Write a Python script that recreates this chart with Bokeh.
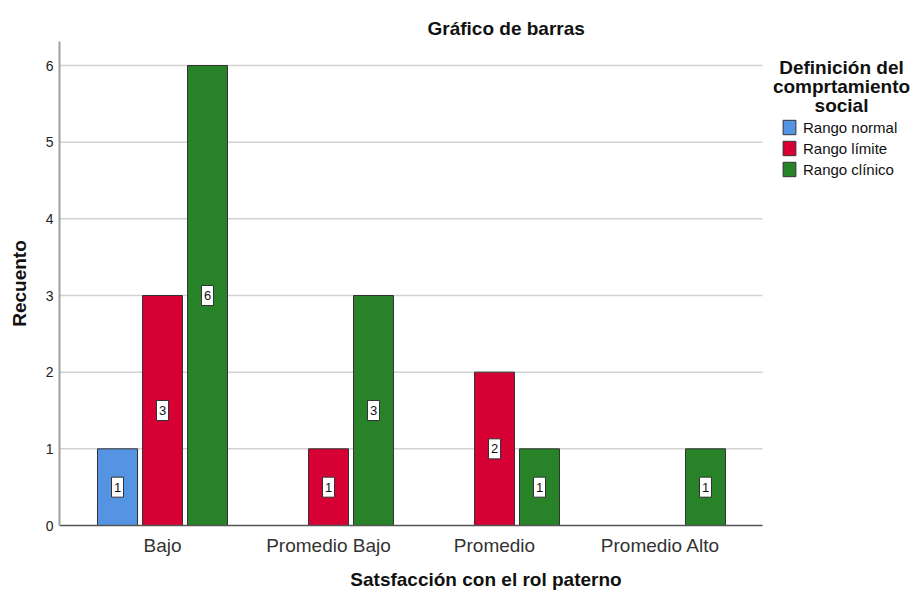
from bokeh.plotting import figure
from bokeh.models import (Range1d, FixedTicker, Legend, LegendItem, Label, Title,
                          ColumnDataSource)
from bokeh.embed import file_html
from bokeh.resources import INLINE
from bokeh.core.properties import value

# ---------------- data ----------------
categories = ["Bajo", "Promedio Bajo", "Promedio", "Promedio Alto"]
series = ["Rango normal", "Rango límite", "Rango clínico"]
rango_normal = [1, 0, 0, 0]
rango_limite = [3, 1, 2, 0]
rango_clinico = [6, 3, 1, 1]
y_ticks = [0, 1, 2, 3, 4, 5, 6]
legend_title_lines = ["Definición del", "comprtamiento", "social"]

counts = [rango_normal, rango_limite, rango_clinico]
colors = ["#5494e3", "#d60034", "#288228"]

FONT = "Liberation Sans"

# ---------------- geometry (pixels -> data) ----------------
PX_PER_X = 166.0          # pixels per category
PX_PER_Y = 460.0 / 6.0    # pixels per count
FRAME_L, FRAME_R, FRAME_T, FRAME_B = 59, 912, 41, 525
X0 = -103.0 / PX_PER_X                    # left edge of frame
X1 = X0 + (FRAME_R - FRAME_L) / PX_PER_X  # right edge of frame (incl. legend area)
XV = X0 + (762 - FRAME_L) / PX_PER_X      # visible end of grid / x axis
Y0 = 0.0
Y1 = (FRAME_B - FRAME_T) / PX_PER_Y


def px_to_x(px):
    return X0 + (px - FRAME_L) / PX_PER_X


def px_to_y(py):
    return (FRAME_B - py) / PX_PER_Y


p = figure(width=912, height=592, output_backend="svg", toolbar_location=None,
           x_range=Range1d(X0, X1), y_range=Range1d(Y0, Y1),
           min_border_left=FRAME_L, min_border_right=0, min_border_top=FRAME_T,
           min_border_bottom=592 - FRAME_B)
p.outline_line_color = None
p.background_fill_color = "white"
p.border_fill_color = "white"

title = Title(text="Gráfico de barras", align="left", offset=368,
              text_font=FONT, text_font_size="19px", text_font_style="bold",
              text_color="#111111", standoff=6)
p.add_layout(title, "above")

# horizontal grid lines (only over the bar area)
grid_y = [t for t in y_ticks if t > 0]
p.segment(x0=[X0] * len(grid_y), x1=[XV] * len(grid_y), y0=grid_y, y1=grid_y,
          line_color="#d2d2d2", line_width=1.5)

bar_w = 40.0 / PX_PER_X
slot = 45.0 / PX_PER_X
renderers = []
for k, (name, vals, col) in enumerate(zip(series, counts, colors)):
    xs = [i + (k - 1) * slot for i, v in enumerate(vals) if v > 0]
    ys = [v for v in vals if v > 0]
    src = ColumnDataSource(dict(x=xs, top=ys, mid=[v / 2 for v in ys],
                                txt=[str(v) for v in ys]))
    r = p.vbar(x="x", top="top", width=bar_w, bottom=0, source=src,
               fill_color=col, line_color="#333333", line_width=1)
    renderers.append(r)
    p.rect(x="x", y="mid", width=12, height=20, width_units="screen",
           height_units="screen", source=src, fill_color="white",
           line_color="#333333", line_width=1)
    p.text(x="x", y="mid", text="txt", source=src, text_align="center",
           text_baseline="middle", text_font=value(FONT),
           text_font_size="13px", text_color="#111111")

# axes
p.xgrid.grid_line_color = None
p.ygrid.grid_line_color = None
p.yaxis.ticker = FixedTicker(ticks=y_ticks)
p.xaxis.ticker = FixedTicker(ticks=list(range(len(categories))))
p.xaxis.major_label_overrides = {i: c for i, c in enumerate(categories)}
p.xaxis.bounds = (X0, XV)

for ax in (p.xaxis[0], p.yaxis[0]):
    ax.major_tick_line_color = None
    ax.minor_tick_line_color = None
    ax.major_tick_out = 0
    ax.major_tick_in = 0
    ax.minor_tick_out = 0
    ax.major_label_text_font = FONT
    ax.axis_label_text_font = FONT
    ax.axis_label_text_font_style = "bold"
    ax.axis_label_text_font_size = "19px"
    ax.axis_label_text_color = "#111111"

p.yaxis.axis_line_color = "#a0a0a0"
p.yaxis.axis_line_width = 2
p.yaxis.major_label_text_font_size = "14px"
p.yaxis.major_label_text_color = "#222222"
p.yaxis.major_label_standoff = 6
p.yaxis.axis_label = "Recuento"
p.yaxis.axis_label_standoff = 13

p.xaxis.axis_line_color = "#555555"
p.xaxis.axis_line_width = 1.5
p.xaxis.major_label_text_font_size = "19px"
p.xaxis.major_label_text_color = "#333333"
p.xaxis.major_label_standoff = 9
p.xaxis.axis_label = "Satsfacción con el rol paterno"
p.xaxis.axis_label_standoff = 10

# legend title (three centred lines)
for line, base in zip(legend_title_lines, [67, 86, 105]):
    p.add_layout(Label(x=px_to_x(841), y=px_to_y(base), text=line,
                       text_align="center", text_baseline="alphabetic",
                       text_font=FONT, text_font_size="19px",
                       text_font_style="bold", text_color="#111111"))

# legend items (location = bottom-left corner, frame-relative pixels)
legend = Legend(items=[LegendItem(label=s, renderers=[r]) for s, r in zip(series, renderers)],
                location=(722, FRAME_B - 178), padding=0, margin=0,
                border_line_color=None, background_fill_alpha=0,
                glyph_width=16, glyph_height=18, label_height=18,
                label_standoff=6, spacing=3,
                label_text_font=FONT, label_text_font_size="15px",
                label_text_color="#111111")
p.add_layout(legend, "center")

open("out.html", "w").write(file_html(p, INLINE))
